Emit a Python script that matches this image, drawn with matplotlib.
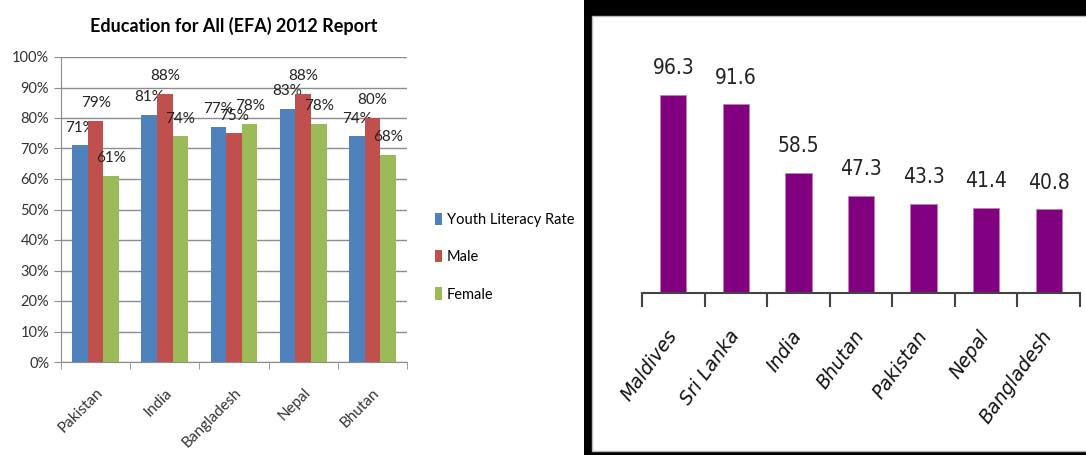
import matplotlib.pyplot as plt
import numpy as np
from matplotlib.patches import Rectangle

# left chart data (EFA 2012)
countries = ['Pakistan', 'India', 'Bangladesh', 'Nepal', 'Bhutan']
youth = [71, 81, 77, 83, 74]
male = [79, 88, 75, 88, 80]
female = [61, 74, 78, 78, 68]
series_names = ['Youth Literacy Rate', 'Male', 'Female']
series_colors = ['#4F81BD', '#C0504D', '#9BBB59']

# right chart data
countries2 = ['Maldives', 'Sri Lanka', 'India', 'Bhutan', 'Pakistan', 'Nepal', 'Bangladesh']
values2 = [96.3, 91.6, 58.5, 47.3, 43.3, 41.4, 40.8]

plt.rcParams['font.family'] = ['Lato', 'DejaVu Sans']

W, H = 1086, 455
fig = plt.figure(figsize=(W / 100, H / 100), dpi=100)

# ---- black frame for right chart (drawn behind) ----
fig.patches.append(Rectangle((584 / W, 0), 1, 1, transform=fig.transFigure,
                             facecolor='black', edgecolor='none', zorder=-2))
fig.patches.append(Rectangle((592 / W, 4 / H), 1, (452 - 17) / H, transform=fig.transFigure,
                             facecolor='white', edgecolor='#bbbbbb', linewidth=1, zorder=-1))

# ---- left chart ----
ax = fig.add_axes([61 / W, 1 - 362 / H, 346 / W, 305 / H])
x = np.arange(len(countries))
bw = 0.225
for i, (vals, name, col) in enumerate(zip([youth, male, female], series_names, series_colors)):
    pos = x + (i - 1) * bw
    ax.bar(pos, vals, width=bw, color=col, label=name, zorder=3)
    for p, v in zip(pos, vals):
        ax.text(p, v + 3.5, f'{v}%', ha='center', va='bottom', fontsize=11, color='#222222')

ax.set_xlim(-0.5, len(countries) - 0.5)
ax.set_ylim(0, 100)
ax.set_yticks(np.arange(0, 101, 10))
ax.set_yticklabels([f'{t}%' for t in range(0, 101, 10)], fontsize=10.5, color='#333333')
ax.yaxis.grid(True, color='#8c8c8c', linewidth=1, zorder=0)
ax.set_xticks(x)
ax.set_xticklabels(countries, rotation=45, ha='right', rotation_mode='anchor', fontsize=11, color='#333333')
ax.set_xticks(np.arange(-0.5, len(countries), 1), minor=True)
ax.tick_params(axis='x', which='major', length=0, pad=17)
ax.tick_params(axis='x', which='minor', length=5, color='#8c8c8c')
ax.tick_params(axis='y', length=5, color='#8c8c8c')
for s in ['top', 'right']:
    ax.spines[s].set_visible(False)
for s in ['left', 'bottom']:
    ax.spines[s].set_color('#8c8c8c')
ax.set_title('Education for All (EFA) 2012 Report', fontsize=13, fontweight='bold', pad=18, x=0.5)
ax.legend(loc='center left', bbox_to_anchor=(1.043, 0.344), frameon=False, fontsize=10.5,
          handlelength=0.5, handleheight=0.9, handletextpad=0.3, labelspacing=1.6)

# ---- right chart ----
ax2 = fig.add_axes([642 / W, 1 - 293 / H, 438 / W, 247 / H])
ax2.patch.set_alpha(0)
x2 = np.arange(len(countries2))
ax2.bar(x2, values2, width=0.42, color='#800080', edgecolor='#c080b0', linewidth=0.6)
for p, v in zip(x2, values2):
    ax2.text(p, v + 8, f'{v}', ha='center', va='bottom', fontsize=15,
             family='DejaVu Sans', fontstretch='condensed', color='#222222')
ax2.set_xlim(-0.5, len(countries2) - 0.5)
ax2.set_ylim(0, 120)
ax2.set_yticks([])
for s in ['top', 'right', 'left']:
    ax2.spines[s].set_visible(False)
ax2.spines['bottom'].set_color('#444444')
ax2.spines['bottom'].set_linewidth(1.5)
ax2.set_xticks(x2)
ax2.set_xticklabels([])
for p, name in zip(x2, countries2):
    ax2.annotate(name, (p, 0), xytext=(-8, -34), textcoords='offset pixels',
                 rotation=54, ha='right', va='top', rotation_mode='anchor',
                 fontsize=13.5, style='oblique', family='DejaVu Sans',
                 color='#111111', annotation_clip=False)
ax2.set_xticks(np.arange(-0.5, len(countries2), 1), minor=True)
ax2.tick_params(axis='x', which='major', length=0)
ax2.tick_params(axis='x', which='minor', length=10, width=1.5, color='#444444')

fig.savefig('out.png', dpi=100)
